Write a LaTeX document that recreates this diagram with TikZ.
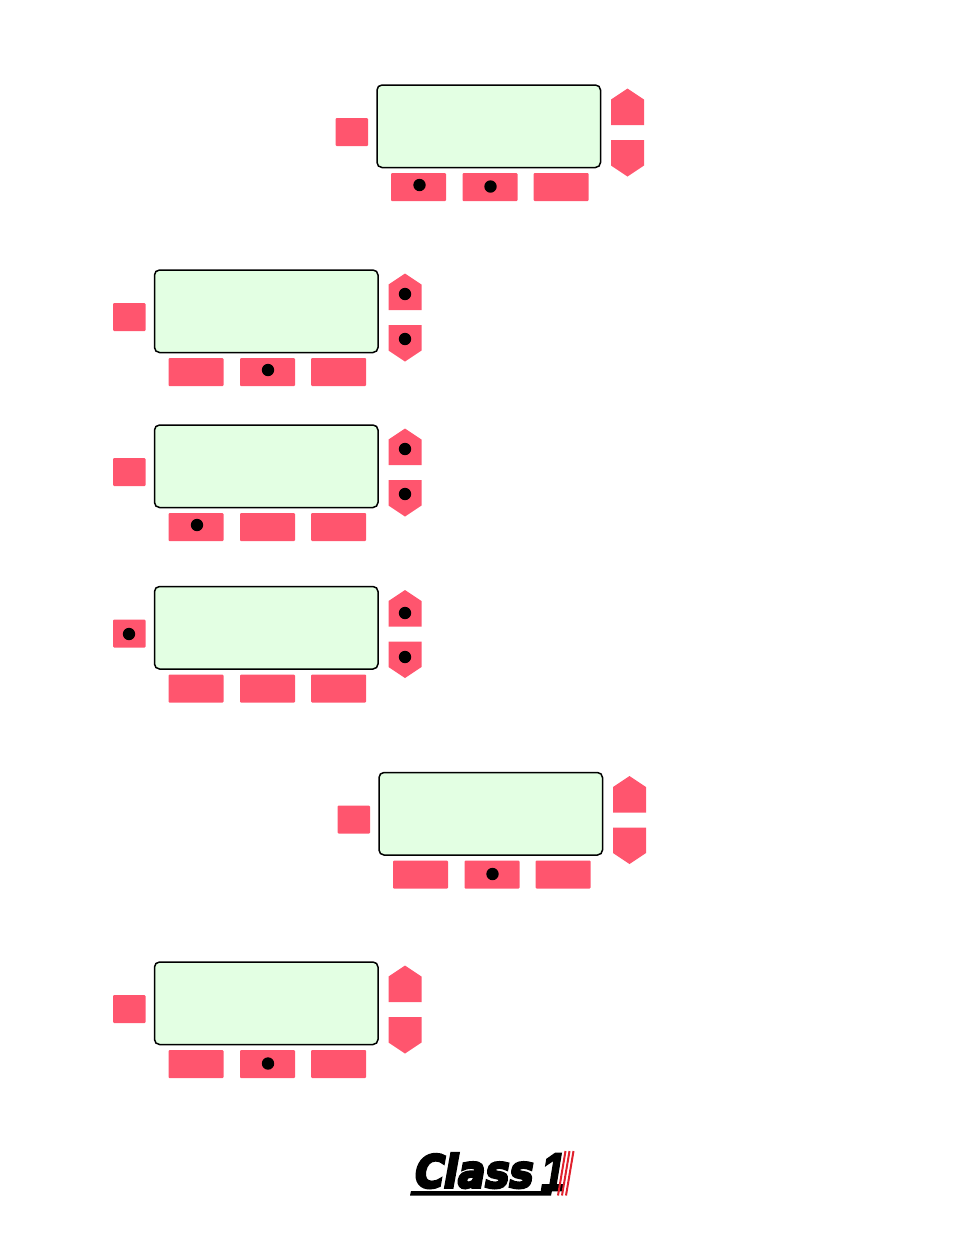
\documentclass[tikz,border=0pt]{standalone}
\usepackage{fontspec}
\setmainfont{DejaVu Sans}
\newfontfamily\logofont[BoldFont={DejaVu Sans Bold},BoldFeatures={FakeSlant=0.2,FakeBold=6}]{DejaVu Sans}
\newfontfamily\logoonefont[BoldFont={Liberation Sans Bold},BoldFeatures={FakeSlant=0.2,FakeBold=3}]{Liberation Sans}
\definecolor{btn}{HTML}{FF556E}
\definecolor{scr}{HTML}{E3FFE3}
\definecolor{logored}{HTML}{E0202C}
\tikzset{
 x=1pt,y=-1pt,
 btnshape/.style={fill=btn,rounded corners=1pt},
 screenshape/.style={draw=black,fill=scr,line width=1.5pt,rounded corners=5pt},
 dotshape/.style={fill=black},
}
\newcommand{\panelat}[2]{%
 \begin{scope}[shift={(#1,#2)}]
  \path[screenshape] (0,0) rectangle (223.5,82.5);
  \path[btnshape] (-41.3,33) rectangle (-9,61);
  \path[btnshape] (14,88) rectangle (69,116);
  \path[btnshape] (85.5,88) rectangle (140.5,116);
  \path[btnshape] (156.7,88) rectangle (211.7,116);
  \path[fill=btn] (234,14.5) -- (250.5,3.5) -- (267,14.5) -- (267,40) -- (234,40) -- cycle;
  \path[fill=btn] (234,55) -- (267,55) -- (267,80.5) -- (250.5,91.5) -- (234,80.5) -- cycle;
 \end{scope}}
\newcommand{\dotat}[2]{\path[dotshape] (#1,#2) circle (6.2);}
\begin{document}
\begin{tikzpicture}
\useasboundingbox (0,0) rectangle (954,1235);
\panelat{377}{85}
\panelat{154.5}{270}
\panelat{154.5}{425}
\panelat{154.5}{586.5}
\panelat{379}{772.5}
\panelat{154.5}{962}
\dotat{419.5}{185}\dotat{490.5}{186.5}
\dotat{405}{294}\dotat{405}{339}\dotat{268}{370}
\dotat{405}{449}\dotat{405}{494}\dotat{197}{525}
\dotat{129}{634}\dotat{405}{613}\dotat{405}{657}
\dotat{492.5}{874}
\dotat{268}{1063.5}
\path[fill=black] (410,1195.5) -- (411,1191) -- (552,1191) -- (551,1195.5) -- cycle;
\node (logotext) [anchor=base west,inner sep=0pt,xscale=0.9,font=\logofont\bfseries\fontsize{45}{45}\selectfont] at (412,1187.5) {Class};
\node (logoone) [anchor=base east,inner sep=0pt,xscale=0.82,font=\logoonefont\bfseries\fontsize{54}{54}\selectfont] at (563.5,1190.5) {1};
\foreach \d in {0,4,8}{\draw[logored,line width=2pt] (558+\d,1195.5) -- (565.5+\d,1151);}
\end{tikzpicture}
\end{document}
